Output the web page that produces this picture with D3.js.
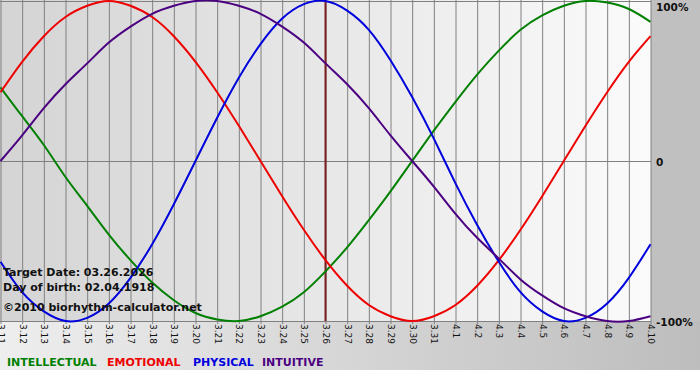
<!DOCTYPE html>
<html>
<head>
<meta charset="utf-8">
<script src="https://cdn.jsdelivr.net/npm/d3@7"></script>
<style>
  body { margin: 0; background: #fff; }
  svg { display: block; font-family: Verdana, "DejaVu Sans", sans-serif; }
</style>
</head>
<body>
<div id="chart"></div>
<script>
const days = ["3.11","3.12","3.13","3.14","3.15","3.16","3.17","3.18","3.19","3.20","3.21","3.22","3.23","3.24","3.25","3.26","3.27","3.28","3.29","3.30","3.31","4.1","4.2","4.3","4.4","4.5","4.6","4.7","4.8","4.9","4.10"];

// values, -1 .. 1
const physical = [-0.63,-0.82,-0.94,-1.00,-0.98,-0.89,-0.73,-0.52,-0.27,0.00,0.27,0.52,0.73,0.89,0.98,1.00,0.94,0.82,0.63,0.40,0.14,-0.14,-0.40,-0.63,-0.82,-0.94,-1.00,-0.98,-0.89,-0.73,-0.52];
const emotional = [0.43,0.62,0.78,0.90,0.97,1.00,0.97,0.90,0.78,0.62,0.43,0.22,0.00,-0.22,-0.43,-0.62,-0.78,-0.90,-0.97,-1.00,-0.97,-0.90,-0.78,-0.62,-0.43,-0.22,0.00,0.22,0.43,0.62,0.78];
const intellectual = [0.46,0.28,0.10,-0.10,-0.28,-0.46,-0.62,-0.76,-0.87,-0.95,-0.99,-1.00,-0.97,-0.91,-0.82,-0.69,-0.54,-0.37,-0.19,0.00,0.19,0.37,0.54,0.69,0.82,0.91,0.97,1.00,0.99,0.95,0.87];
const intuitive = [0.00,0.16,0.33,0.48,0.61,0.74,0.84,0.92,0.97,1.00,1.00,0.97,0.92,0.84,0.74,0.61,0.48,0.33,0.16,0.00,-0.16,-0.33,-0.48,-0.61,-0.74,-0.84,-0.92,-0.97,-1.00,-1.00,-0.97];

const yLabels = ["100%", "0", "-100%"];
const yLabelValues = [1, 0, -1];
const legendNames = ["INTELLECTUAL", "EMOTIONAL", "PHYSICAL", "INTUITIVE"];
const infoLines = ["Target Date: 03.26.2026", "Day of birth: 02.04.1918", "©2010 biorhythm-calculator.net"];
const targetDay = "3.26";

const w = 700, h = 380;
const plotRight = 651, plotTop = 1, plotBottom = 321;

const svg = d3.select("#chart").append("svg").attr("width", w).attr("height", h);
const defs = svg.append("defs");

const outerGrad = defs.append("linearGradient").attr("id", "outer").attr("x1", 0).attr("x2", 1).attr("y1", 0).attr("y2", 0);
outerGrad.append("stop").attr("offset", "0%").attr("stop-color", "#eeeeee");
outerGrad.append("stop").attr("offset", "100%").attr("stop-color", "#bdbdbd");

const plotGrad = defs.append("linearGradient").attr("id", "plotbg").attr("x1", 0).attr("x2", 1).attr("y1", 0).attr("y2", 0);
plotGrad.append("stop").attr("offset", "0%").attr("stop-color", "#d4d4d4");
plotGrad.append("stop").attr("offset", "100%").attr("stop-color", "#fbfbfb");

svg.append("rect").attr("x", 0).attr("y", 0).attr("width", w).attr("height", 370).attr("fill", "url(#outer)");
svg.append("rect").attr("x", plotRight).attr("y", 0).attr("width", w - plotRight).attr("height", plotBottom).attr("fill", "#c0c0c0");

const x = d3.scaleLinear().domain([0, days.length - 1]).range([0.5, 650.5]);
const y = d3.scaleLinear().domain([-1, 1]).range([plotBottom, plotTop]);

svg.append("rect")
   .attr("x", 0).attr("y", 0)
   .attr("width", plotRight).attr("height", plotBottom)
   .attr("fill", "url(#plotbg)");

// vertical grid + ticks
const xAxis = d3.axisBottom(x)
  .tickValues(d3.range(days.length))
  .tickSize(plotBottom + 3)
  .tickFormat(i => days[i]);

const gx = svg.append("g").call(xAxis);
gx.select(".domain").remove();
gx.selectAll("line").attr("stroke", "#808080");
gx.selectAll("text")
  .attr("transform", `translate(0,${plotBottom + 3}) rotate(90)`)
  .attr("x", 0).attr("y", 0).attr("dy", "0.35em")
  .attr("text-anchor", "start")
  .style("font-size", "9px")
  .style("font-family", "Verdana, 'DejaVu Sans', sans-serif")
  .attr("fill", "#111");

// horizontal lines
svg.append("g").selectAll("line")
   .data(yLabelValues)
   .enter().append("line")
   .attr("x1", 0).attr("x2", plotRight)
   .attr("y1", d => Math.round(y(d)) + 0.5).attr("y2", d => Math.round(y(d)) + 0.5)
   .attr("stroke", "#808080");

// target day
svg.append("line")
   .attr("x1", x(days.indexOf(targetDay))).attr("x2", x(days.indexOf(targetDay)))
   .attr("y1", 0).attr("y2", plotBottom)
   .attr("stroke", "#7a1f1f").attr("stroke-width", 2);

const series = [
  { name: "intellectual", values: intellectual, color: "#008000" },
  { name: "emotional", values: emotional, color: "#ee0000" },
  { name: "physical", values: physical, color: "#0000dd" },
  { name: "intuitive", values: intuitive, color: "#4b0082" }
];

const line = d3.line()
  .x((d, i) => x(i))
  .y(d => y(d))
  .curve(d3.curveNatural);

svg.append("g").selectAll("path")
   .data(series)
   .enter().append("path")
   .attr("d", d => line(d.values))
   .attr("fill", "none")
   .attr("stroke", d => d.color)
   .attr("stroke-width", 2);

// y labels on the right
svg.append("g").selectAll("text")
   .data(yLabels)
   .enter().append("text")
   .attr("x", 656)
   .attr("y", (d, i) => Math.max(y(yLabelValues[i]) + 5, 11))
   .style("font-size", "10.5px")
   .style("font-weight", "bold")
   .attr("fill", "#111")
   .text(d => d);

// info text
svg.append("g").selectAll("text")
   .data(infoLines)
   .enter().append("text")
   .attr("x", 3)
   .attr("y", (d, i) => [276, 291, 311][i])
   .style("font-size", "11px")
   .style("font-weight", "bold")
   .attr("fill", "#111")
   .text(d => d);

// legend
const legendX = [7, 107, 193, 262];
svg.append("g").selectAll("text")
   .data(legendNames)
   .enter().append("text")
   .attr("x", (d, i) => legendX[i])
   .attr("y", 366)
   .style("font-size", "11px")
   .style("font-weight", "bold")
   .attr("fill", (d, i) => series[i].color)
   .text(d => d);
</script>
</body>
</html>
